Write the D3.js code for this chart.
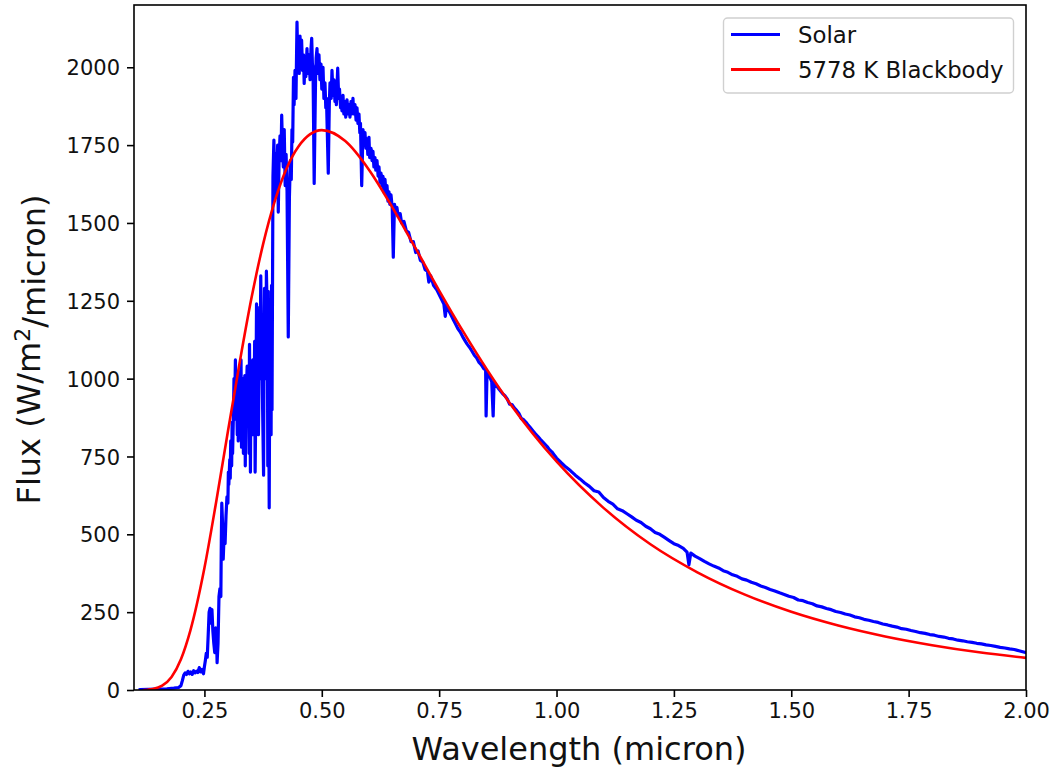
<!DOCTYPE html>
<html>
<head>
<meta charset="utf-8">
<script src="https://cdn.jsdelivr.net/npm/d3@7"></script>
<style>
  html, body { margin: 0; padding: 0; background: #fff; }
  svg { display: block; font-family: "DejaVu Sans", sans-serif; }
</style>
</head>
<body>
<svg id="chart" width="1060" height="769"></svg>
<script>
// Solar spectral irradiance (micron, W/m^2/micron)
const solarWavelength = [
  // far UV to near UV
  0.113, 0.130, 0.150, 0.170, 0.185, 0.195, 0.200, 0.203, 0.206, 0.209,
  0.212, 0.215, 0.218, 0.221, 0.224, 0.227, 0.230, 0.233, 0.236, 0.239,
  0.242, 0.245, 0.248, 0.250, 0.252, 0.254, 0.256, 0.258, 0.260, 0.262,
  0.264, 0.266, 0.268, 0.270, 0.272, 0.274, 0.276, 0.277, 0.279, 0.281,
  0.283, 0.285, 0.286, 0.287, 0.289, 0.290, 0.292, 0.294, 0.296, 0.298,
  0.300, 0.301, 0.302, 0.304, 0.305, 0.306, 0.308, 0.309, 0.310, 0.312,
  0.313, 0.314, 0.316, 0.317, 0.318, 0.320, 0.321, 0.322, 0.324, 0.325,
  0.326, 0.328, 0.329, 0.330, 0.332, 0.333, 0.334, 0.336, 0.337, 0.338,
  0.340, 0.341, 0.342, 0.344, 0.345, 0.346, 0.348, 0.349, 0.350, 0.352,
  0.353, 0.354, 0.356, 0.357, 0.358, 0.360, 0.361, 0.362, 0.364, 0.365,
  0.366, 0.368, 0.369, 0.370, 0.372, 0.373, 0.374, 0.376, 0.377, 0.378,
  0.380, 0.381, 0.382, 0.384, 0.385, 0.386, 0.388, 0.389, 0.390, 0.392,
  0.393, 0.394,
  // visible
  0.396, 0.398, 0.400, 0.402, 0.404, 0.406, 0.4073, 0.409, 0.411, 0.413,
  0.4146, 0.416, 0.418, 0.420, 0.422, 0.424, 0.426, 0.4286, 0.431, 0.433,
  0.435, 0.4365, 0.438, 0.4397, 0.441, 0.443, 0.445, 0.4472, 0.449, 0.4504,
  0.452, 0.4536, 0.455, 0.457, 0.459, 0.461, 0.4625, 0.4642, 0.466, 0.4685,
  0.470, 0.4727, 0.475, 0.477, 0.4785, 0.480, 0.4813, 0.4838, 0.4866, 0.488,
  0.4898, 0.4915, 0.494, 0.496, 0.4983, 0.500, 0.5026, 0.5045, 0.5068, 0.5085,
  0.510, 0.5138, 0.516, 0.5175, 0.520, 0.5217, 0.524, 0.526, 0.528, 0.5292,
  0.531, 0.5339, 0.536, 0.5377, 0.540, 0.5409, 0.543, 0.5452, 0.547, 0.5494,
  0.551, 0.5537, 0.556, 0.5579, 0.560, 0.5622, 0.564, 0.5664, 0.568, 0.5707,
  0.573, 0.575, 0.577, 0.5792, 0.581, 0.5824, 0.585, 0.5878, 0.590, 0.592,
  0.594, 0.5963, 0.598, 0.6005, 0.602, 0.6048, 0.607, 0.609, 0.611, 0.6133,
  0.615, 0.6176, 0.620, 0.6218, 0.624, 0.6261, 0.628, 0.6303, 0.632, 0.6346,
  0.637, 0.6389, 0.641, 0.6431, 0.645, 0.6474, 0.650, 0.6523, 0.6548, 0.657,
  0.660, 0.663, 0.667, 0.670, 0.675, 0.680, 0.685, 0.690, 0.695, 0.700,
  0.705, 0.710, 0.715, 0.720, 0.725, 0.728, 0.732, 0.738, 0.745, 0.750,
  0.755, 0.760, 0.763, 0.766, 0.770, 0.775, 0.780, 0.785, 0.790, 0.795,
  0.800, 0.805, 0.810, 0.815, 0.820, 0.825, 0.830, 0.835, 0.840, 0.845,
  0.849, 0.850, 0.852, 0.858, 0.862, 0.865, 0.867, 0.872, 0.878, 0.885,
  0.890, 0.895, 0.900, 0.905, 0.910, 0.915, 0.920, 0.925, 0.930, 0.935,
  0.940, 0.945, 0.950, 0.955, 0.960, 0.965, 0.970, 0.975, 0.980, 0.985,
  0.990, 0.995,
  // near infrared
  1.000, 1.010, 1.020, 1.030, 1.040, 1.050, 1.060, 1.070, 1.080, 1.090,
  1.100, 1.110, 1.120, 1.130, 1.140, 1.150, 1.160, 1.170, 1.180, 1.190,
  1.200, 1.210, 1.220, 1.230, 1.240, 1.250, 1.260, 1.270, 1.278, 1.282,
  1.286, 1.295, 1.305, 1.315, 1.325, 1.335, 1.345, 1.355, 1.365, 1.375,
  1.385, 1.395, 1.405, 1.415, 1.425, 1.435, 1.445, 1.455, 1.465, 1.475,
  1.485, 1.495, 1.505, 1.515, 1.525, 1.535, 1.545, 1.555, 1.565, 1.575,
  1.585, 1.595, 1.605, 1.615, 1.625, 1.635, 1.645, 1.655, 1.665, 1.675,
  1.685, 1.695, 1.705, 1.715, 1.725, 1.735, 1.745, 1.755, 1.765, 1.775,
  1.785, 1.795, 1.805, 1.815, 1.825, 1.835, 1.845, 1.855, 1.865, 1.875,
  1.885, 1.895, 1.905, 1.915, 1.925, 1.935, 1.945, 1.955, 1.965, 1.975,
  1.985, 2.000
];
const solarFlux = [
  // far UV to near UV
  1, 2, 3, 4, 6, 8, 14, 30, 48, 55,
  50, 60, 52, 58, 50, 62, 55, 60, 56, 72,
  58, 66, 52, 75, 95, 118, 105, 175, 250, 262,
  215, 258, 190, 150, 120, 200, 160, 88, 150, 300,
  325, 300, 480, 600, 520, 420, 500, 470, 560, 620,
  600, 700, 660, 740, 680, 800, 720, 860, 760, 900,
  1000, 870, 1060, 940, 990, 820, 1000, 800, 1020, 900,
  950, 1060, 780, 880, 1000, 760, 940, 1010, 720, 870,
  990, 1040, 900, 1000, 760, 1110, 700, 960, 1000, 880,
  1060, 820, 960, 1120, 700, 1000, 1240, 1050, 1150, 820,
  960, 1230, 1100, 1330, 1000, 1100, 900, 690, 1100, 1290,
  1200, 1000, 1345, 1200, 720, 1280, 585, 1000, 1150, 820,
  1300, 900,
  // visible
  1650, 1766, 1580, 1720, 1640, 1750, 1535, 1700, 1780, 1700,
  1846, 1760, 1680, 1800, 1620, 1720, 1600, 1134, 1580, 1700,
  1640, 1800, 1760, 1968, 1880, 1990, 1900, 2145, 2000, 2080,
  1980, 2100, 2020, 2087, 1990, 2040, 1948, 2030, 1970, 2060,
  1980, 2040, 1960, 2060, 2093, 2010, 2000, 1627, 1950, 2030,
  2060, 1980, 2040, 1960, 2010, 1930, 2000, 1900, 1950, 1870,
  1900, 1660, 1880, 1950, 1900, 1990, 1910, 1960, 1890, 1950,
  1880, 1997, 1900, 1930, 1870, 1900, 1860, 1910, 1850, 1890,
  1840, 1895, 1850, 1880, 1840, 1890, 1850, 1900, 1850, 1880,
  1830, 1870, 1820, 1850, 1790, 1820, 1620, 1800, 1760, 1790,
  1740, 1770, 1720, 1775, 1710, 1740, 1700, 1730, 1680, 1710,
  1670, 1700, 1650, 1680, 1630, 1660, 1620, 1650, 1600, 1640,
  1590, 1620, 1570, 1600, 1560, 1590, 1550, 1390, 1560, 1540,
  1550, 1520, 1530, 1500, 1505, 1475, 1470, 1440, 1440, 1405,
  1410, 1380, 1375, 1350, 1345, 1310, 1330, 1300, 1285, 1270,
  1255, 1240, 1200, 1235, 1220, 1205, 1190, 1175, 1160, 1150,
  1135, 1122, 1110, 1100, 1088, 1075, 1066, 1052, 1044, 1032,
  1028, 880, 1020, 1005, 990, 880, 990, 978, 965, 952,
  945, 935, 918, 917, 906, 898, 888, 872, 868, 860,
  850, 841, 832, 823, 815, 806, 798, 790, 782, 772,
  765, 755,
  // near infrared
  745, 730, 716, 704, 690, 678, 665, 654, 640, 636,
  618, 606, 597, 582, 576, 566, 556, 545, 538, 526,
  518, 506, 500, 490, 480, 470, 464, 455, 443, 402,
  440, 430, 422, 413, 405, 398, 392, 383, 378, 370,
  365, 357, 353, 346, 341, 334, 329, 323, 318, 312,
  307, 301, 297, 289, 287, 281, 277, 270, 267, 262,
  258, 252, 249, 244, 241, 235, 232, 227, 224, 220,
  217, 212, 209, 205, 202, 197, 195, 191, 188, 184,
  182, 178, 176, 172, 170, 166, 164, 160, 158, 155,
  153, 150, 148, 145, 143, 140, 137, 135, 132, 130,
  126, 120
];

// 5778 K blackbody curve (micron, W/m^2/micron)
const bbWavelength = [0.12, 0.13, 0.14, 0.16, 0.18, 0.20, 0.22, 0.25, 0.275, 0.30,
  0.325, 0.35, 0.375, 0.40, 0.45, 0.50, 0.55, 0.60, 0.65, 0.70,
  0.75, 0.80, 0.90, 1.00, 1.10, 1.20, 1.30, 1.40, 1.50, 1.60,
  1.70, 1.80, 1.90, 2.00];
const bbFlux = [0, 1, 3, 14, 42, 99, 191, 392, 604, 830,
  1051, 1257, 1432, 1571, 1745, 1798, 1763, 1672, 1551, 1418,
  1283, 1154, 922, 734, 585, 468, 378, 307, 251, 207,
  172, 144, 121, 103];

const seriesNames = ["Solar", "5778 K Blackbody"];
const seriesColors = ["#0000ff", "#ff0000"];
const xTicks = [0.25, 0.50, 0.75, 1.00, 1.25, 1.50, 1.75, 2.00];
const yTicks = [0, 250, 500, 750, 1000, 1250, 1500, 1750, 2000];
const xTitle = "Wavelength (micron)";

const svg = d3.select("#chart");
const plot = { left: 134, right: 1026, top: 5, bottom: 690 };

const x = d3.scaleLinear().domain([0.1, 2.0]).range([plot.left, plot.right]);
const y = d3.scaleLinear().domain([0, 2200]).range([plot.bottom, plot.top]);

svg.append("defs").append("clipPath").attr("id", "plotclip")
  .append("rect")
  .attr("x", plot.left).attr("y", plot.top)
  .attr("width", plot.right - plot.left).attr("height", plot.bottom - plot.top);

const solar = solarWavelength.map((w, i) => [w, solarFlux[i]]);
const bb = bbWavelength.map((w, i) => [w, bbFlux[i]]);

const lines = svg.append("g").attr("clip-path", "url(#plotclip)");

lines.append("path")
  .datum(solar)
  .attr("fill", "none")
  .attr("stroke", seriesColors[0])
  .attr("stroke-width", 3.2)
  .attr("stroke-linejoin", "round")
  .attr("stroke-linecap", "square")
  .attr("d", d3.line().x(d => x(d[0])).y(d => y(d[1])));

lines.append("path")
  .datum(bb)
  .attr("fill", "none")
  .attr("stroke", seriesColors[1])
  .attr("stroke-width", 2.6)
  .attr("stroke-linejoin", "round")
  .attr("d", d3.line().curve(d3.curveMonotoneX).x(d => x(d[0])).y(d => y(d[1])));

// axes
const xAxis = svg.append("g")
  .attr("transform", `translate(0,${plot.bottom})`)
  .call(d3.axisBottom(x).tickValues(xTicks).tickFormat(d3.format(".2f"))
    .tickSize(7).tickPadding(6).tickSizeOuter(0));
const yAxis = svg.append("g")
  .attr("transform", `translate(${plot.left},0)`)
  .call(d3.axisLeft(y).tickValues(yTicks).tickFormat(d3.format("d"))
    .tickSize(7).tickPadding(7).tickSizeOuter(0));

[xAxis, yAxis].forEach(g => {
  g.select(".domain").remove();
  g.selectAll(".tick line").attr("stroke", "#000").attr("stroke-width", 1.6);
  g.selectAll(".tick text").attr("fill", "#111")
    .style("font-family", "'DejaVu Sans', sans-serif").style("font-size", "21px");
});
yAxis.selectAll(".tick text").attr("dy", "0.36em");

// frame
svg.append("rect")
  .attr("x", plot.left).attr("y", plot.top)
  .attr("width", plot.right - plot.left).attr("height", plot.bottom - plot.top)
  .attr("fill", "none").attr("stroke", "#000").attr("stroke-width", 1.6);

// axis titles
svg.append("text")
  .attr("x", (plot.left + plot.right) / 2 - 1).attr("y", 760)
  .attr("text-anchor", "middle")
  .style("font-size", "32px").attr("fill", "#111")
  .text(xTitle);

const yTitle = svg.append("text")
  .attr("transform", `translate(40,${(plot.top + plot.bottom) / 2 + 2}) rotate(-90)`)
  .attr("text-anchor", "middle")
  .style("font-size", "32px").attr("fill", "#111");
yTitle.append("tspan").text("Flux (W/m");
yTitle.append("tspan").attr("dy", "-0.45em").style("font-size", "22px").text("2");
yTitle.append("tspan").attr("dy", "0.45em").text("/micron)");

// legend
const legend = svg.append("g");
legend.append("rect")
  .attr("x", 723.5).attr("y", 18).attr("width", 290).attr("height", 75)
  .attr("rx", 4).attr("fill", "#fff").attr("fill-opacity", 0.8)
  .attr("stroke", "#d0d0d0").attr("stroke-width", 1.4);
seriesNames.forEach((name, i) => {
  const cy = 34.5 + i * 35;
  legend.append("line")
    .attr("x1", 731).attr("x2", 780).attr("y1", cy).attr("y2", cy)
    .attr("stroke", seriesColors[i]).attr("stroke-width", 3);
  legend.append("text")
    .attr("x", 798).attr("y", cy).attr("dy", "0.36em")
    .style("font-size", "22.8px").attr("fill", "#111")
    .text(name);
});
</script>
</body>
</html>
